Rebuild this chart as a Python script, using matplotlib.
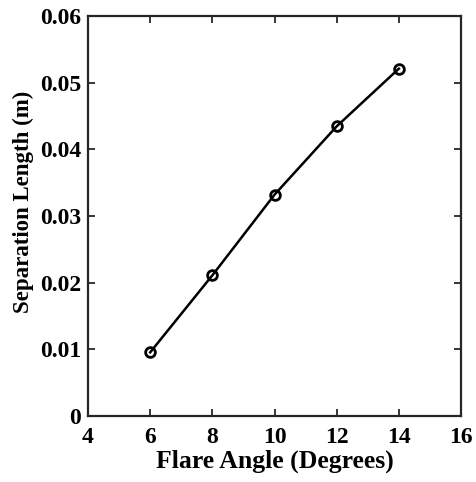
import matplotlib.pyplot as plt

flare_angle = [6, 8, 10, 12, 14]
sep_length = [0.00955, 0.0211, 0.0332, 0.04345, 0.0521]
x_ticks = [4, 6, 8, 10, 12, 14, 16]
y_ticks = [0, 0.01, 0.02, 0.03, 0.04, 0.05, 0.06]

plt.rcParams['font.family'] = 'Liberation Serif'
plt.rcParams['font.weight'] = 'bold'

fig = plt.figure(figsize=(4.77, 4.82), dpi=100)
ax = fig.add_axes([0.1845, 0.1369, 0.782, 0.8299])

ax.plot(flare_angle, sep_length, 'k-o', linewidth=1.8, markersize=7,
        markerfacecolor='none', markeredgewidth=2)

ax.set_xlim(4, 16)
ax.set_ylim(0, 0.06)
ax.set_xticks(x_ticks)
ax.set_yticks(y_ticks)
ax.set_xticklabels([str(v) for v in x_ticks])
ax.set_yticklabels(['0'] + ['%.2f' % v for v in y_ticks[1:]])

for s in ax.spines.values():
    s.set_linewidth(1.6)
    s.set_color('#262626')
ax.tick_params(direction='in', length=5, width=1.3, color='#262626',
               top=True, right=True, labelsize=17)
ax.tick_params(axis='x', pad=8)
ax.tick_params(axis='y', pad=5)

ax.set_xlabel('Flare Angle (Degrees)', fontsize=18.5, fontweight='bold', labelpad=1)
ax.set_ylabel('Separation Length (m)', fontsize=16.5, fontweight='bold')
ax.yaxis.set_label_coords(-0.146, 0.535)

fig.savefig('out.png', dpi=100)
